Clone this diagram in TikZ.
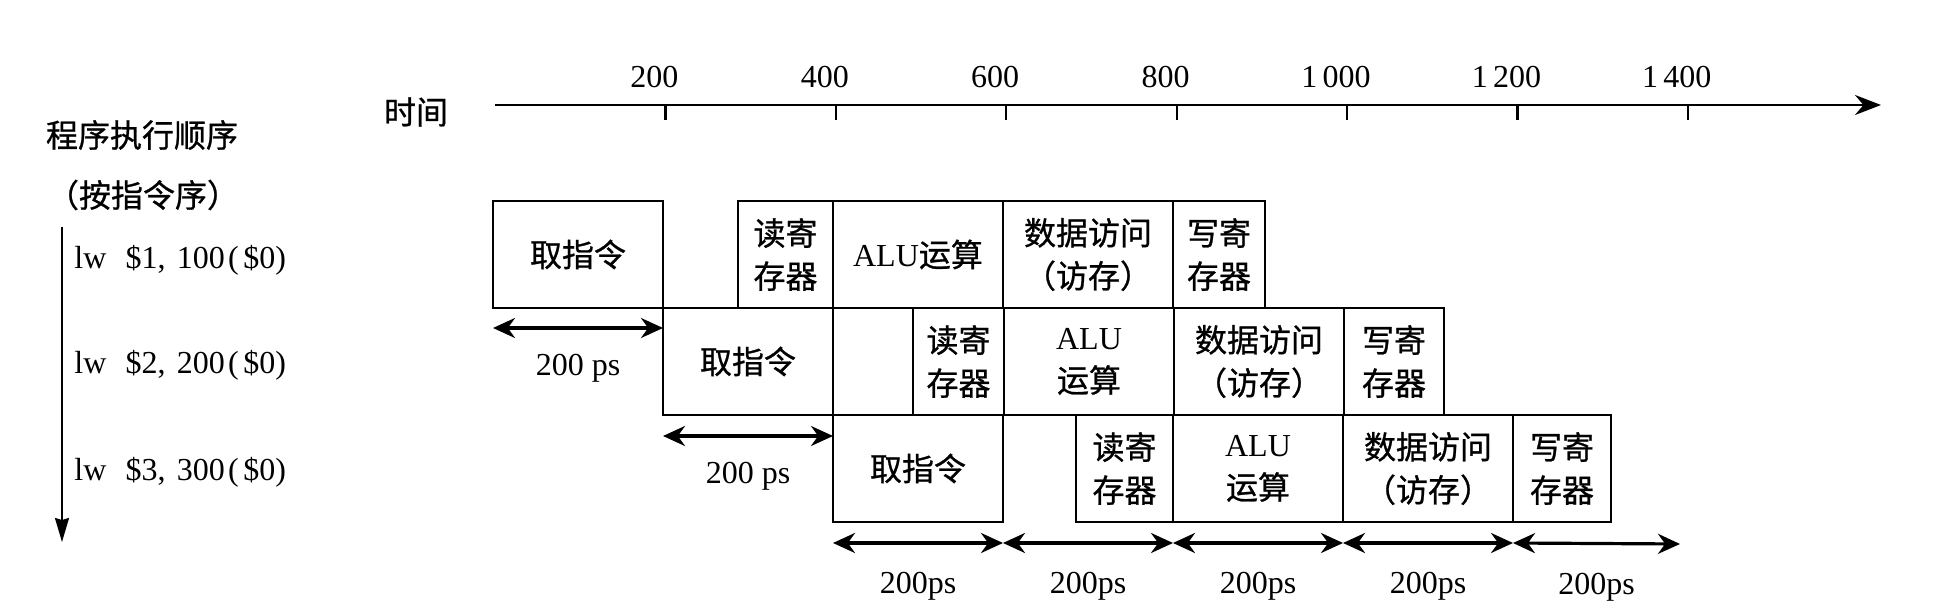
\documentclass[tikz,border=0pt]{standalone}
\usepackage{fontspec}
\setmainfont{Liberation Serif}
\newfontfamily\cjk[FakeBold=0.8]{Noto Sans CJK SC}
\usetikzlibrary{arrows.meta, positioning}
\newcommand{\zh}[1]{{\cjk #1}}

\tikzset{
  stage/.style={draw, line width=1.2pt, minimum height=53.5pt, inner sep=0pt,
    outer sep=0pt, align=center, font=\cjk\fontsize{16}{21.5}\selectfont},
  lbl/.style={inner sep=0pt, font=\fontsize{16}{19}\selectfont},
  span/.style={line width=1.6pt,
    {Stealth[length=11pt,width=10pt]}-{Stealth[length=11pt,width=10pt]}},
}

\begin{document}
\begin{tikzpicture}[x=0.5pt, y=-0.5pt]
  \useasboundingbox (0,0) rectangle (1944,614);

  % time axis
  \coordinate (t0) at (495,105);
  \coordinate (tmax) at (1881,105);
  \draw[line width=1.3pt, -{Stealth[length=13pt,width=10pt]}] (t0) -- (tmax);
  \foreach \i/\lbl in {1/200, 2/400, 3/600, 4/800, 5/{1\,000}, 6/{1\,200}, 7/{1\,400}} {
    \draw[line width=1.1pt] ([xshift=85.2pt*\i]t0) -- ++(0,15);
    \node[lbl] (tick\i) at ([xshift=85.2pt*\i-5.5pt, yshift=14pt]t0) {\lbl};
  }
  \node[lbl] (time) at (416,112) {\zh{时间}};

  % program order
  \node[lbl] (order) at (142,135) {\zh{程序执行顺序}};
  \node[lbl] (order2) at (143,195) {\zh{（按指令序）}};
  \coordinate (otop) at (62,227);
  \coordinate (obot) at (62,542);
  \draw[line width=0.9pt, -{Stealth[length=12pt,width=7pt,inset=1pt]}] (otop) -- (obot);
  \node[lbl, anchor=west] (lw1) at (74,260) {lw\hspace{0.6em}\$1,\hspace{0.35em}100\hspace{0.1em}(\hspace{0.15em}\$0)};
  \node[lbl, anchor=west] (lw2) at (74,365) {lw\hspace{0.6em}\$2,\hspace{0.35em}200\hspace{0.1em}(\hspace{0.15em}\$0)};
  \node[lbl, anchor=west] (lw3) at (74,472) {lw\hspace{0.6em}\$3,\hspace{0.35em}300\hspace{0.1em}(\hspace{0.15em}\$0)};

  % row 1
  \node[stage, minimum width=85pt, anchor=north west] (if1) at (493,201) {取指令};
  \node[stage, minimum width=47.5pt, right=37.5pt of if1] (rr1) {读寄\\存器};
  \node[stage, minimum width=85pt, right=0pt of rr1] (alu1) {{\rmfamily ALU}运算};
  \node[stage, minimum width=85pt, right=0pt of alu1] (mem1) {数据访问\\（访存）};
  \node[stage, minimum width=46pt, right=0pt of mem1] (wb1) {写寄\\存器};

  % row 2
  \node[stage, minimum width=85pt, below right=0pt and 0pt of if1] (if2) {取指令};
  \node[stage, minimum width=45.5pt, right=40pt of if2] (rr2) {读寄\\存器};
  \node[stage, minimum width=85pt, right=0pt of rr2] (alu2) {{\rmfamily ALU}\\运算};
  \node[stage, minimum width=85pt, right=0pt of alu2] (mem2) {数据访问\\（访存）};
  \node[stage, minimum width=50pt, right=0pt of mem2] (wb2) {写寄\\存器};

  % row 3
  \node[stage, minimum width=85pt, below right=0pt and 0pt of if2] (if3) {取指令};
  \node[stage, minimum width=48.5pt, right=36.5pt of if3] (rr3) {读寄\\存器};
  \node[stage, minimum width=85pt, right=0pt of rr3] (alu3) {{\rmfamily ALU}\\运算};
  \node[stage, minimum width=85pt, right=0pt of alu3] (mem3) {数据访问\\（访存）};
  \node[stage, minimum width=49pt, right=0pt of mem3] (wb3) {写寄\\存器};

  % cycle spans
  \draw[span] ([yshift=-10pt]if1.south west) -- ([yshift=-10pt]if1.south east)
    node[lbl, midway, below=12.5pt] (ps1) {200 ps};
  \draw[span] ([yshift=-10.5pt]if2.south west) -- ([yshift=-10.5pt]if2.south east)
    node[lbl, midway, below=12.5pt] (ps2) {200 ps};
  \coordinate (tend) at (1680,523);
  \foreach \a/\b in {if3.south west/if3.south east, if3.south east/alu3.south west,
      alu3.south west/alu3.south east, mem3.south west/mem3.south east, mem3.south east/tend}
    \draw[span] ([yshift=-10.5pt]\a) -- ([yshift=-10.5pt]\b)
      node[lbl, midway, below=14pt] {200ps};
\end{tikzpicture}
\end{document}
